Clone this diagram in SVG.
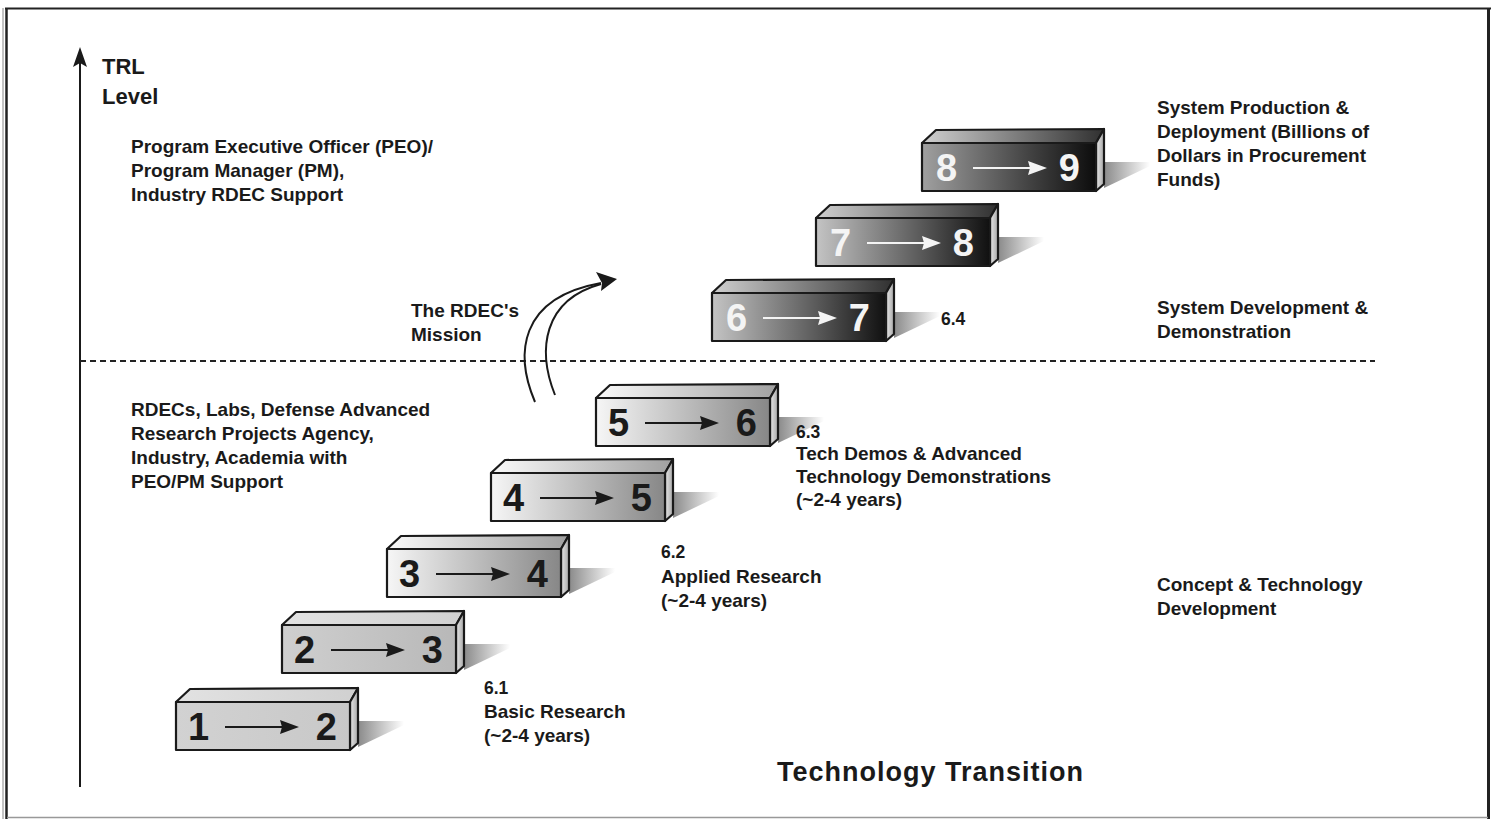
<svg xmlns="http://www.w3.org/2000/svg" width="1491" height="819" viewBox="0 0 1491 819">
<style>
.t{font-family:"Liberation Sans",Arial,sans-serif;font-weight:bold;fill:#1a1a1a}
.b{font-size:19px}
.s{font-size:17.5px}
.d{font-family:"Liberation Sans",Arial,sans-serif;font-weight:bold;font-size:38px}
.dk{fill:#1a1a1a}
.wt{fill:#f4f4f4}
.edge{stroke:#1a1a1a;stroke-width:2.2;stroke-linejoin:round}
</style>
<defs>
<linearGradient id="sh" x1="0" y1="0" x2="1" y2="0"><stop offset="0" stop-color="#8a8a8a"/><stop offset="1" stop-color="#ffffff"/></linearGradient>
<linearGradient id="f1" x1="0" y1="0" x2="1" y2="0"><stop offset="0" stop-color="#d2d2d2"/><stop offset="1" stop-color="#c8c8c8"/></linearGradient>
<linearGradient id="f2" x1="0" y1="0" x2="1" y2="0"><stop offset="0" stop-color="#cfcfcf"/><stop offset="1" stop-color="#b8b8b8"/></linearGradient>
<linearGradient id="f3" x1="0" y1="0" x2="1" y2="0"><stop offset="0" stop-color="#f6f6f6"/><stop offset="1" stop-color="#878787"/></linearGradient>
<linearGradient id="f6" x1="0" y1="0" x2="1" y2="0"><stop offset="0" stop-color="#c4c4c4"/><stop offset="0.6" stop-color="#5a5a5a"/><stop offset="1" stop-color="#101010"/></linearGradient>
<linearGradient id="f8" x1="0" y1="0" x2="1" y2="0"><stop offset="0" stop-color="#a0a0a0"/><stop offset="0.6" stop-color="#454545"/><stop offset="1" stop-color="#0c0c0c"/></linearGradient>
<linearGradient id="t1" x1="0" y1="0" x2="1" y2="0"><stop offset="0" stop-color="#e2e2e2"/><stop offset="1" stop-color="#d0d0d0"/></linearGradient>
<linearGradient id="t3" x1="0" y1="0" x2="1" y2="0"><stop offset="0" stop-color="#fafafa"/><stop offset="1" stop-color="#a0a0a0"/></linearGradient>
<linearGradient id="t6" x1="0" y1="0" x2="1" y2="0"><stop offset="0" stop-color="#d0d0d0"/><stop offset="1" stop-color="#303030"/></linearGradient>
<linearGradient id="rs" x1="0" y1="0" x2="1" y2="0"><stop offset="0" stop-color="#e8e8e8"/><stop offset="1" stop-color="#a8a8a8"/></linearGradient>
</defs>

<g id="frame" fill="none">
<line x1="3" y1="8" x2="3" y2="819" stroke="#888" stroke-width="1"/>
<line x1="6.5" y1="8" x2="6.5" y2="819" stroke="#222" stroke-width="2.5"/>
<line x1="5" y1="8.5" x2="1491" y2="8.5" stroke="#222" stroke-width="2"/>
<line x1="1488.5" y1="8" x2="1488.5" y2="819" stroke="#222" stroke-width="3"/>
<line x1="7" y1="817.5" x2="1488" y2="817.5" stroke="#999" stroke-width="1.5"/>
</g>

<g id="axis">
<line x1="80" y1="62" x2="80" y2="787" stroke="#1a1a1a" stroke-width="2"/>
<polygon points="80,47 73,67 80,63 87,67" fill="#1a1a1a"/>
<text class="t" x="102" y="74" font-size="22">TRL</text>
<text class="t" x="102" y="104" font-size="22">Level</text>
</g>

<g id="divider">
<line x1="80" y1="361" x2="1375" y2="361" stroke="#222" stroke-width="2" stroke-dasharray="6 4"/>
</g>

<g id="box12" transform="translate(176,702)">
<polygon points="182,19 228,19 228,23 182,45" fill="url(#sh)"/>
<polygon class="edge" points="0,0 14,-13 182,-14 174,0" fill="url(#t1)"/>
<polygon class="edge" points="174,0 182,-14 182,41 174,48" fill="url(#rs)"/>
<rect class="edge" x="0" y="0" width="174" height="48" fill="url(#f1)"/>
<text class="d dk" x="12" y="38">1</text><text class="d dk" x="161" y="38" text-anchor="end">2</text>
<line x1="49" y1="25" x2="108" y2="25" stroke="#1a1a1a" stroke-width="2.2"/>
<polygon points="123,25 104,18 106,25 104,32" fill="#1a1a1a"/>
</g>

<g id="box23" transform="translate(282,625)">
<polygon points="182,19 228,19 228,23 182,45" fill="url(#sh)"/>
<polygon class="edge" points="0,0 14,-13 182,-14 174,0" fill="url(#t1)"/>
<polygon class="edge" points="174,0 182,-14 182,41 174,48" fill="url(#rs)"/>
<rect class="edge" x="0" y="0" width="174" height="48" fill="url(#f2)"/>
<text class="d dk" x="12" y="38">2</text><text class="d dk" x="161" y="38" text-anchor="end">3</text>
<line x1="49" y1="25" x2="108" y2="25" stroke="#1a1a1a" stroke-width="2.2"/>
<polygon points="123,25 104,18 106,25 104,32" fill="#1a1a1a"/>
</g>

<g id="box34" transform="translate(387,549)">
<polygon points="182,19 228,19 228,23 182,45" fill="url(#sh)"/>
<polygon class="edge" points="0,0 14,-13 182,-14 174,0" fill="url(#t3)"/>
<polygon class="edge" points="174,0 182,-14 182,41 174,48" fill="url(#rs)"/>
<rect class="edge" x="0" y="0" width="174" height="48" fill="url(#f3)"/>
<text class="d dk" x="12" y="38">3</text><text class="d dk" x="161" y="38" text-anchor="end">4</text>
<line x1="49" y1="25" x2="108" y2="25" stroke="#1a1a1a" stroke-width="2.2"/>
<polygon points="123,25 104,18 106,25 104,32" fill="#1a1a1a"/>
</g>

<g id="box45" transform="translate(491,473)">
<polygon points="182,19 228,19 228,23 182,45" fill="url(#sh)"/>
<polygon class="edge" points="0,0 14,-13 182,-14 174,0" fill="url(#t3)"/>
<polygon class="edge" points="174,0 182,-14 182,41 174,48" fill="url(#rs)"/>
<rect class="edge" x="0" y="0" width="174" height="48" fill="url(#f3)"/>
<text class="d dk" x="12" y="38">4</text><text class="d dk" x="161" y="38" text-anchor="end">5</text>
<line x1="49" y1="25" x2="108" y2="25" stroke="#1a1a1a" stroke-width="2.2"/>
<polygon points="123,25 104,18 106,25 104,32" fill="#1a1a1a"/>
</g>

<g id="box56" transform="translate(596,398)">
<polygon points="182,19 228,19 228,23 182,45" fill="url(#sh)"/>
<polygon class="edge" points="0,0 14,-13 182,-14 174,0" fill="url(#t3)"/>
<polygon class="edge" points="174,0 182,-14 182,41 174,48" fill="url(#rs)"/>
<rect class="edge" x="0" y="0" width="174" height="48" fill="url(#f3)"/>
<text class="d dk" x="12" y="38">5</text><text class="d dk" x="161" y="38" text-anchor="end">6</text>
<line x1="49" y1="25" x2="108" y2="25" stroke="#1a1a1a" stroke-width="2.2"/>
<polygon points="123,25 104,18 106,25 104,32" fill="#1a1a1a"/>
</g>

<g id="box67" transform="translate(712,293)">
<polygon points="182,19 228,19 228,23 182,45" fill="url(#sh)"/>
<polygon class="edge" points="0,0 14,-13 182,-14 174,0" fill="url(#t6)"/>
<polygon class="edge" points="174,0 182,-14 182,41 174,48" fill="url(#rs)"/>
<rect class="edge" x="0" y="0" width="174" height="48" fill="url(#f6)"/>
<text class="d wt" x="14" y="38">6</text><text class="d wt" x="158" y="38" text-anchor="end">7</text>
<line x1="51" y1="25" x2="110" y2="25" stroke="#f4f4f4" stroke-width="2.2"/>
<polygon points="125,25 106,18 108,25 106,32" fill="#f4f4f4"/>
</g>

<g id="box78" transform="translate(816,218)">
<polygon points="182,19 228,19 228,23 182,45" fill="url(#sh)"/>
<polygon class="edge" points="0,0 14,-13 182,-14 174,0" fill="url(#t6)"/>
<polygon class="edge" points="174,0 182,-14 182,41 174,48" fill="url(#rs)"/>
<rect class="edge" x="0" y="0" width="174" height="48" fill="url(#f6)"/>
<text class="d wt" x="14" y="38">7</text><text class="d wt" x="158" y="38" text-anchor="end">8</text>
<line x1="51" y1="25" x2="110" y2="25" stroke="#f4f4f4" stroke-width="2.2"/>
<polygon points="125,25 106,18 108,25 106,32" fill="#f4f4f4"/>
</g>

<g id="box89" transform="translate(922,143)">
<polygon points="182,19 228,19 228,23 182,45" fill="url(#sh)"/>
<polygon class="edge" points="0,0 14,-13 182,-14 174,0" fill="url(#t6)"/>
<polygon class="edge" points="174,0 182,-14 182,41 174,48" fill="url(#rs)"/>
<rect class="edge" x="0" y="0" width="174" height="48" fill="url(#f8)"/>
<text class="d wt" x="14" y="38">8</text><text class="d wt" x="158" y="38" text-anchor="end">9</text>
<line x1="51" y1="25" x2="110" y2="25" stroke="#f4f4f4" stroke-width="2.2"/>
<polygon points="125,25 106,18 108,25 106,32" fill="#f4f4f4"/>
</g>

<g id="connectors">
<path d="M535,402 C515,355 518,298 601,283" fill="none" stroke="#1a1a1a" stroke-width="2"/>
<path d="M555,395 C537,350 543,300 601,284" fill="none" stroke="#1a1a1a" stroke-width="2"/>
<polygon points="617,279 596,272 602,283 601,291" fill="#1a1a1a"/>
</g>

<g id="labels" class="t">
<text class="b" x="131" y="153">Program Executive Officer (PEO)/</text>
<text class="b" x="131" y="177">Program Manager (PM),</text>
<text class="b" x="131" y="201">Industry RDEC Support</text>
<text class="b" x="411" y="317">The RDEC's</text>
<text class="b" x="411" y="341">Mission</text>
<text class="b" x="131" y="416">RDECs, Labs, Defense Advanced</text>
<text class="b" x="131" y="440">Research Projects Agency,</text>
<text class="b" x="131" y="464">Industry, Academia with</text>
<text class="b" x="131" y="488">PEO/PM Support</text>
<text class="b" x="1157" y="114">System Production &amp;</text>
<text class="b" x="1157" y="138">Deployment (Billions of</text>
<text class="b" x="1157" y="162">Dollars in Procurement</text>
<text class="b" x="1157" y="186">Funds)</text>
<text class="s" x="941" y="325">6.4</text>
<text class="b" x="1157" y="314">System Development &amp;</text>
<text class="b" x="1157" y="338">Demonstration</text>
<text class="s" x="796" y="438">6.3</text>
<text class="b" x="796" y="460">Tech Demos &amp; Advanced</text>
<text class="b" x="796" y="483">Technology Demonstrations</text>
<text class="b" x="796" y="506">(~2-4 years)</text>
<text class="s" x="661" y="558">6.2</text>
<text class="b" x="661" y="583">Applied Research</text>
<text class="b" x="661" y="607">(~2-4 years)</text>
<text class="b" x="1157" y="591">Concept &amp; Technology</text>
<text class="b" x="1157" y="615">Development</text>
<text class="s" x="484" y="694">6.1</text>
<text class="b" x="484" y="718">Basic Research</text>
<text class="b" x="484" y="742">(~2-4 years)</text>
<text x="777" y="781" font-size="27" textLength="306">Technology Transition</text>
</g>
</svg>
